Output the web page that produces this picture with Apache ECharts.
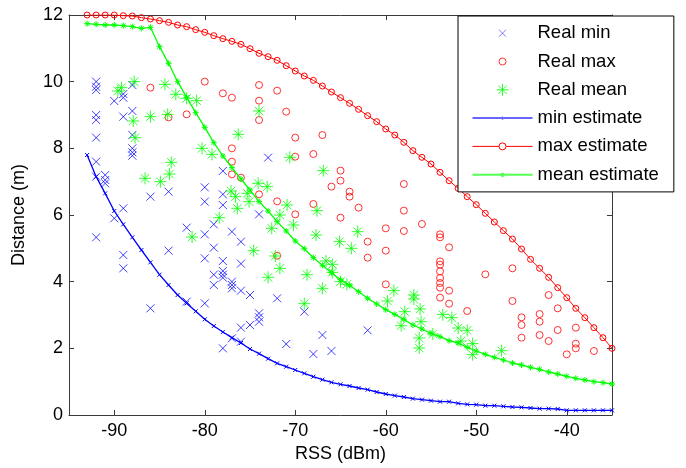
<!DOCTYPE html>
<html>
<head>
<meta charset="utf-8">
<script src="https://cdn.jsdelivr.net/npm/echarts@6/dist/echarts.min.js"></script>
<style>
html,body{margin:0;padding:0;background:#fff;}
#chart{width:686px;height:468px;}
</style>
</head>
<body>
<div id="chart"></div>
<script>
// ---------- data ----------
const xTicks = [-90, -80, -70, -60, -50, -40];
const yTicks = [0, 2, 4, 6, 8, 10, 12];

const estX = [-93,-92,-91,-90,-89,-88,-87,-86,-85,-84,-83,-82,-81,-80,-79,-78,-77,-76,-75,-74,
  -73,-72,-71,-70,-69,-68,-67,-66,-65,-64,-63,-62,-61,-60,-59,-58,-57,-56,-55,-54,
  -53,-52,-51,-50,-49,-48,-47,-46,-45,-44,-43,-42,-41,-40,-39,-38,-37,-36,-35];

const minEst = [7.80,7.15,6.65,6.12,5.72,5.33,4.95,4.58,4.21,3.90,3.60,3.35,3.11,2.87,2.67,2.49,2.32,2.16,1.98,1.84,
  1.69,1.55,1.45,1.35,1.25,1.15,1.06,0.98,0.92,0.87,0.81,0.76,0.69,0.63,0.58,0.54,0.49,0.46,0.43,0.40,
  0.40,0.35,0.32,0.31,0.28,0.28,0.26,0.24,0.23,0.21,0.19,0.19,0.18,0.14,0.14,0.14,0.14,0.14,0.14];

const maxEst = [12.0,12.0,12.0,12.0,11.98,11.97,11.92,11.88,11.83,11.78,11.70,11.65,11.56,11.48,11.38,11.29,11.21,11.12,10.99,10.85,
  10.75,10.64,10.48,10.32,10.17,10.04,9.87,9.69,9.52,9.35,9.17,8.98,8.80,8.58,8.40,8.18,7.93,7.73,7.53,7.28,
  7.03,6.80,6.55,6.31,6.05,5.79,5.53,5.28,4.98,4.67,4.40,4.13,3.82,3.52,3.20,2.92,2.62,2.32,2.00];

const meanEst = [11.74,11.72,11.70,11.70,11.68,11.65,11.60,11.63,11.05,10.55,10.00,9.53,9.07,8.63,8.17,7.77,7.42,7.08,6.75,6.40,
  6.12,5.80,5.52,5.22,4.99,4.72,4.49,4.27,4.06,3.89,3.70,3.50,3.33,3.16,3.02,2.87,2.70,2.58,2.45,2.35,
  2.23,2.16,2.03,1.92,1.82,1.73,1.65,1.56,1.50,1.43,1.37,1.29,1.23,1.16,1.10,1.05,1.00,0.97,0.93];

const realMinX = [-92,-92,-92,-92,-92,-92,-92,-92,-92,
  -91,-91,-91, -90,-90,
  -89,-89,-89,-89,-89,-89,
  -88,-88,-88,-88,-88,-88,
  -86,-86, -84,-84, -82,-82,
  -80,-80,-80,-80,-80,
  -79,-79,-79,-79,
  -78,-78,-78,-78,-78,-78,-78,-78,
  -77,-77,-77,-77,-77,
  -76,-76,-76,-76,-76,
  -75,-75, -74,-74,-74,-74, -73, -72, -71, -69, -68, -67, -66, -62];
const realMinY = [10.0,9.85,9.75,9.0,8.85,8.32,7.6,7.15,5.33,
  7.2,7.05,6.95, 9.42,5.9,
  9.63,9.52,8.95,6.2,4.8,4.4,
  9.9,9.12,8.4,8.0,7.88,7.78,
  6.55,3.2, 6.7,4.93, 5.62,3.4,
  6.83,6.4,5.42,4.7,3.35,
  5.72,5.02,4.21,3.9,
  7.32,6.62,6.3,4.62,4.32,4.21,4.12,2.0,
  5.5,4.0,3.9,3.8,2.3,
  5.2,4.54,3.73,2.62,2.2,
  3.6,2.7, 6.02,3.05,2.93,2.8, 7.72, 3.5, 2.13, 3.1, 1.83, 2.4, 1.92, 2.54];

const realMaxX = [-86,-84,-82,-80,-78,
  -77,-77,-77,-77, -76,
  -74,-74,-74,-74,
  -72,-72,-72, -71,
  -70,-70,-70, -68,-68, -67, -66,
  -65,-65,-65, -64,-64, -63, -62,-62,
  -60,-60,-60, -58,-58,-58, -56,
  -54,-54,-54,-54,-54,-54,-54,-54,-54,
  -53,-53,-53, -51, -49, -46,-46,
  -45,-45,-45, -43,-43,-43, -42,-42, -41,-41, -40, -39,-39,-39, -37];
const realMaxY = [9.82,8.93,9.02,10.0,9.65,
  9.52,8.0,7.6,7.22, 7.12,
  9.9,9.43,8.85,6.62,
  9.73,6.41,4.78, 9.1,
  8.32,7.75,6.02, 7.83,6.33, 8.4, 6.85,
  7.33,7.03,5.92, 6.7,6.55, 6.22, 5.2,4.72,
  5.6,4.93,3.92, 6.93,6.13,5.52, 5.73,
  5.42,5.33,4.61,4.51,4.31,4.11,3.96,3.82,3.52,
  5.03,3.73,3.34, 3.12, 4.22, 4.4,3.42,
  2.93,2.7,2.32, 3.03,2.8,2.4, 3.6,2.22, 3.2,2.55, 1.82, 2.62,2.14,2.0, 1.92];

const realMeanX = [-89.6,-89.2,-87.8,-84.4,-83.2,-82.0,-80.9,
  -87.9,-86.0,-84.1,-87.7,
  -83.7,-83.9,-86.6,-84.9,
  -80.3,-79.2,-76.3,
  -77.1,-76.6,-76.4,-78.4,-75.3,-75.1,
  -74.1,-73.1,-74.0,-70.6,-66.9,
  -70.9,-71.7,-67.6,
  -81.4, -72.6,-70.2,
  -74.6,-72.2,-71.7,-73.0,-69.0,-68.7,-67.0,
  -67.7,-65.1,-63.1,-63.8,-66.6,-65.9,-65.9,-65.0,-64.3,
  -59.1,-59.8,-56.9,-56.9,-57.9,-56.2,-58.3,-56.1,-56.3,-56.3,
  -53.7,-52.7,-52.0,-51.0,-54.8,-51.7,-50.4,-50.4,-47.2];
const realMeanY = [9.72,9.82,10.0,9.92,9.62,9.5,9.43,
  8.82,8.95,9.02,8.32,
  7.58,7.23,7.1,7.0,
  8.0,7.82,8.42,
  6.72,6.55,6.2,5.92,6.65,6.4,
  6.95,6.85,9.12,7.73,7.33,
  6.3,6.0,6.13,
  5.34, 5.6,5.7,
  4.93,4.77,4.4,4.13,3.34,4.21,3.8,
  5.4,5.2,5.5,5.0,4.62,4.52,4.28,4.0,3.92,
  3.73,3.42,3.6,3.48,3.1,3.18,2.68,2.8,2.31,2.01,
  3.01,2.92,2.61,2.54,2.43,2.22,2.14,1.81,1.93];

// ---------- build ----------
const zip = (xs, ys) => xs.map((x, i) => [x, ys[i]]);
const BLUE = '#0000ff', RED = '#ff0000', GREEN = '#00ff00';
const FONT = '"Liberation Sans", Arial, sans-serif';

const xSym = 'path://M0,0L10,10M10,0L0,10';
const starSym = 'path://M5,0L5,10M0,5L10,5M1.5,1.5L8.5,8.5M8.5,1.5L1.5,8.5';

const chart = echarts.init(document.getElementById('chart'), null, {renderer: 'canvas'});

const axisLineStyle = {color: '#3a3a3a', width: 1};

const option = {
  animation: false,
  backgroundColor: '#fff',
  grid: {left: 69, right: 74, top: 15, bottom: 53, containLabel: false},
  xAxis: [{
    type: 'value', min: -95, max: -35, interval: 5, position: 'bottom',
    name: 'RSS (dBm)', nameLocation: 'middle', nameGap: 29,
    nameTextStyle: {fontSize: 18, fontFamily: FONT, color: '#000'},
    axisLine: {show: true, onZero: false, lineStyle: axisLineStyle},
    axisTick: {show: true, inside: true, length: 5, customValues: xTicks, lineStyle: axisLineStyle},
    axisLabel: {show: true, margin: 7, fontSize: 18, fontFamily: FONT, color: '#000', customValues: xTicks,
      formatter: v => (v % 10 === 0 ? String(v) : '')},
    splitLine: {show: false}
  }, {
    type: 'value', min: -95, max: -35, interval: 5, position: 'top',
    axisLine: {show: true, onZero: false, lineStyle: axisLineStyle},
    axisTick: {show: true, inside: true, length: 5, customValues: xTicks, lineStyle: axisLineStyle},
    axisLabel: {show: false},
    splitLine: {show: false}
  }],
  yAxis: [{
    type: 'value', min: 0, max: 12, interval: 2, position: 'left',
    name: 'Distance (m)', nameLocation: 'middle', nameGap: 41,
    nameTextStyle: {fontSize: 18, fontFamily: FONT, color: '#000'},
    axisLine: {show: true, onZero: false, lineStyle: axisLineStyle},
    axisTick: {show: true, inside: true, length: 5, lineStyle: axisLineStyle},
    axisLabel: {show: true, margin: 6, fontSize: 18, fontFamily: FONT, color: '#000'},
    splitLine: {show: false}
  }, {
    type: 'value', min: 0, max: 12, interval: 2, position: 'right',
    axisLine: {show: true, onZero: false, lineStyle: axisLineStyle},
    axisTick: {show: true, inside: true, length: 5, lineStyle: axisLineStyle},
    axisLabel: {show: false},
    splitLine: {show: false}
  }],
  legend: {
    orient: 'vertical', left: 458, top: 16,
    padding: [4.7, 15, 4.7, 12],
    itemWidth: 60, itemHeight: 20, itemGap: 3.3,
    borderColor: '#000', borderWidth: 1, backgroundColor: '#fff',
    textStyle: {fontSize: 18.5, fontFamily: FONT, color: '#000', lineHeight: 20},
    selectedMode: false,
    data: [
      {name: 'Real min', icon: 'path://M0,0M60,20M26.5,6.5L33.5,13.5M33.5,6.5L26.5,13.5',
        itemStyle: {color: 'none', borderColor: '#5555ff', borderWidth: 1}},
      {name: 'Real max', icon: 'path://M0,0M60,20M33.5,10A3.5,3.5,0,1,1,26.5,10A3.5,3.5,0,1,1,33.5,10',
        itemStyle: {color: 'none', borderColor: RED, borderWidth: 1}},
      {name: 'Real mean', icon: 'path://M0,0M60,20M30,4L30,16M24,10L36,10M25.8,5.8L34.2,14.2M34.2,5.8L25.8,14.2',
        itemStyle: {color: 'none', borderColor: GREEN, borderWidth: 1}},
      {name: 'min estimate', icon: 'path://M0,0M60,20M0,10L60,10M29,9L31,11M31,9L29,11',
        itemStyle: {color: 'none', borderColor: '#6666ff', borderWidth: 2},
        lineStyle: {color: '#6666ff', width: 2}},
      {name: 'max estimate', icon: 'path://M0,0M60,20M0,10L26.5,10M33.5,10L60,10M33.5,10A3.5,3.5,0,1,1,26.5,10A3.5,3.5,0,1,1,33.5,10',
        itemStyle: {color: 'none', borderColor: RED, borderWidth: 1},
        lineStyle: {color: RED, width: 1}},
      {name: 'mean estimate', icon: 'path://M0,0M60,20M0,10L60,10M28.5,8.5L31.5,11.5M31.5,8.5L28.5,11.5',
        itemStyle: {color: 'none', borderColor: '#55ff55', borderWidth: 2},
        lineStyle: {color: '#55ff55', width: 2}}
    ]
  },
  series: [
    {
      name: 'Real min', type: 'scatter', data: zip(realMinX, realMinY),
      symbol: xSym, symbolSize: 8,
      itemStyle: {color: 'none', borderColor: BLUE, borderWidth: 1, opacity: 0.75}
    },
    {
      name: 'Real max', type: 'scatter', data: zip(realMaxX, realMaxY),
      symbol: 'circle', symbolSize: 7,
      itemStyle: {color: 'none', borderColor: RED, borderWidth: 1, opacity: 0.8}
    },
    {
      name: 'Real mean', type: 'scatter', data: zip(realMeanX, realMeanY),
      symbol: starSym, symbolSize: 12,
      itemStyle: {color: 'none', borderColor: GREEN, borderWidth: 1}
    },
    {
      name: 'min estimate', type: 'line', data: zip(estX, minEst),
      symbol: xSym, symbolSize: 4, showSymbol: true,
      lineStyle: {color: BLUE, width: 1.3},
      itemStyle: {color: 'none', borderColor: BLUE, borderWidth: 1}
    },
    {
      name: 'max estimate', type: 'line', data: zip(estX, maxEst),
      symbol: 'circle', symbolSize: 6, showSymbol: true,
      lineStyle: {color: RED, width: 1},
      itemStyle: {color: 'none', borderColor: RED, borderWidth: 1}
    },
    {
      name: 'mean estimate', type: 'line', data: zip(estX, meanEst),
      symbol: starSym, symbolSize: 6, showSymbol: true,
      lineStyle: {color: GREEN, width: 1.3},
      itemStyle: {color: 'none', borderColor: GREEN, borderWidth: 1}
    }
  ]
};

chart.setOption(option);
</script>
</body>
</html>
